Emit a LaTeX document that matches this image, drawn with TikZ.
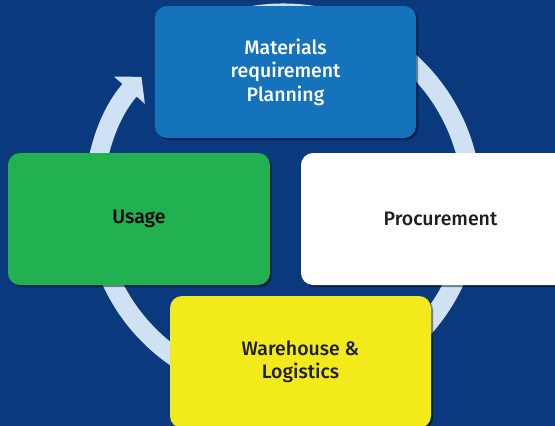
\documentclass[tikz,border=0pt]{standalone}
\usepackage{fontspec}
\setmainfont{Fira Sans}[UprightFont={* Medium}]
\usetikzlibrary{arrows.meta,shadows}
\definecolor{bg}{RGB}{11,57,126}
\definecolor{ring}{RGB}{207,226,243}
\definecolor{mrpblue}{RGB}{20,115,186}
\definecolor{usegreen}{RGB}{34,177,80}
\definecolor{whyellow}{RGB}{242,234,27}
\definecolor{ink}{RGB}{30,30,30}
\begin{document}
\begin{tikzpicture}[x=1pt,y=-1pt,
  stagebox/.style={rounded corners=12pt, minimum height=132pt, align=center,
    inner sep=0pt, font=\fontsize{19.5}{23.5}\selectfont,
    drop shadow={shadow xshift=2pt, shadow yshift=-2pt, opacity=.45, fill=black}},
  cycle/.style={draw=ring, line width=19pt, -{Triangle[width=40pt,length=18pt]}}]
  \useasboundingbox (0,0) rectangle (555,426);
  \clip (0,0) rectangle (555,426);
  \fill[bg] (0,0) rectangle (555,426);

  % circular flow behind the stages
  \coordinate (c) at (283,202);
  \draw[cycle] (c) ++(-100:189) arc[start angle=-100, end angle=221.5, radius=189];

  % stages
  \node[stagebox, fill=mrpblue, text=white, minimum width=261pt] (mrp) at (285.5,72)
    {Materials\\requirement\\Planning};
  \node[stagebox, fill=usegreen, text=black, minimum width=262pt] (usage) at (139,219)
    {Usage};
  \node[stagebox, fill=white, text=ink, minimum width=279pt] (proc) at (440.5,219)
    {Procurement};
  \node[stagebox, fill=whyellow, text=ink, minimum width=261pt] (wh) at (300.5,362)
    {Warehouse \&\\Logistics};
\end{tikzpicture}
\end{document}
